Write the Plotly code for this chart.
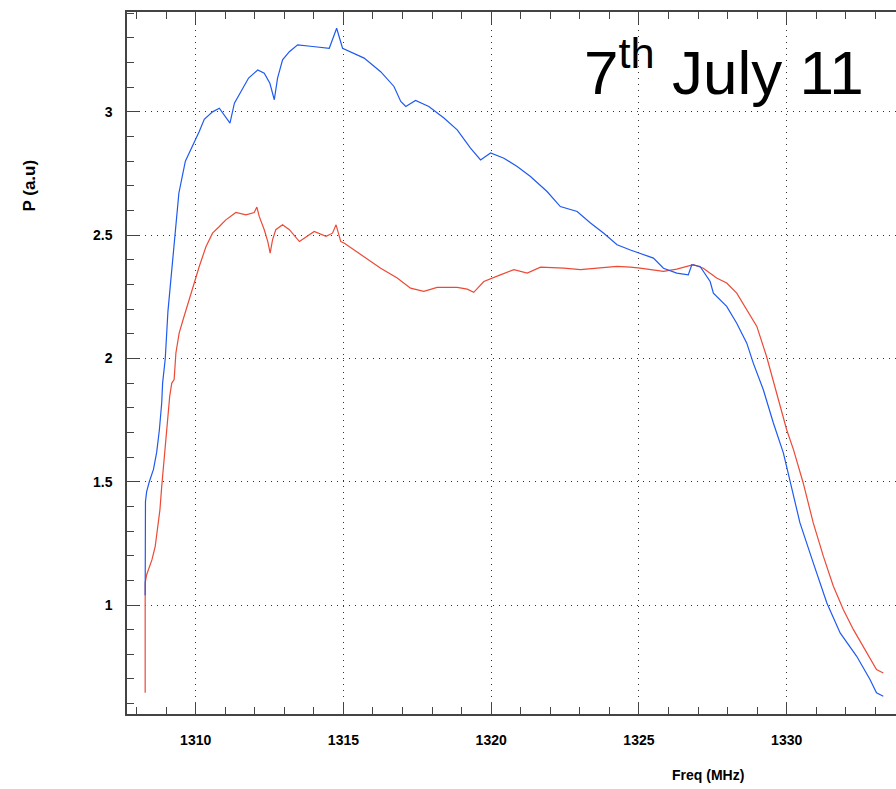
import plotly.graph_objects as go

# Blue trace (freq MHz, power a.u.)
blue_freq = [1308.29, 1308.29, 1308.30, 1308.34, 1308.43, 1308.57, 1308.68, 1308.77, 1308.85, 1308.88,
             1308.97, 1309.06, 1309.29, 1309.43, 1309.65, 1309.94, 1310.12, 1310.29, 1310.57, 1310.80,
             1311.16, 1311.31, 1311.53, 1311.79, 1312.10, 1312.32, 1312.51, 1312.66, 1312.77, 1312.94,
             1313.17, 1313.45, 1313.96, 1314.52, 1314.77, 1314.97, 1315.70, 1316.26, 1316.71, 1316.94,
             1317.11, 1317.44, 1317.89, 1318.40, 1318.85, 1319.30, 1319.64, 1319.98, 1320.43, 1320.88,
             1321.33, 1321.89, 1322.34, 1322.91, 1323.36, 1323.81, 1324.26, 1324.71, 1325.49, 1325.83,
             1326.28, 1326.67, 1326.79, 1327.07, 1327.41, 1327.52, 1327.97, 1328.31, 1328.65, 1328.87,
             1329.21, 1329.55, 1329.89, 1330.12, 1330.45, 1330.90, 1331.36, 1331.81, 1332.37, 1332.82,
             1333.04, 1333.27]
blue_p = [1.04, 1.31, 1.42, 1.46, 1.50, 1.55, 1.62, 1.71, 1.82, 1.90,
          2.00, 2.19, 2.51, 2.67, 2.80, 2.87, 2.92, 2.97, 3.00, 3.015,
          2.954, 3.035, 3.082, 3.137, 3.17, 3.157, 3.116, 3.049, 3.137, 3.211,
          3.244, 3.272, 3.265, 3.258, 3.339, 3.258, 3.218, 3.163, 3.103, 3.042,
          3.022, 3.046, 3.022, 2.975, 2.927, 2.853, 2.805, 2.833, 2.812, 2.778,
          2.738, 2.677, 2.616, 2.596, 2.549, 2.508, 2.461, 2.44, 2.407, 2.366,
          2.346, 2.339, 2.38, 2.373, 2.312, 2.265, 2.211, 2.143, 2.062, 1.981,
          1.873, 1.738, 1.616, 1.495, 1.333, 1.171, 1.008, 0.887, 0.792, 0.698,
          0.644, 0.630]

# Red trace
red_freq = [1308.29, 1308.29, 1308.34, 1308.41, 1308.52, 1308.63, 1308.71, 1308.79, 1308.85, 1308.90,
            1308.97, 1309.05, 1309.12, 1309.19, 1309.27, 1309.33, 1309.44, 1309.58, 1309.90, 1310.12,
            1310.35, 1310.57, 1310.80, 1311.02, 1311.36, 1311.70, 1311.98, 1312.07, 1312.15, 1312.32,
            1312.44, 1312.52, 1312.60, 1312.71, 1312.94, 1313.17, 1313.51, 1313.79, 1314.01, 1314.41,
            1314.63, 1314.75, 1314.91, 1315.02, 1315.70, 1316.26, 1316.82, 1317.27, 1317.72, 1318.17,
            1318.85, 1319.19, 1319.41, 1319.75, 1320.31, 1320.77, 1321.22, 1321.67, 1322.46, 1323.02,
            1323.59, 1324.26, 1324.71, 1325.04, 1325.83, 1326.28, 1326.84, 1327.18, 1327.63, 1327.97,
            1328.31, 1328.65, 1328.99, 1329.32, 1329.66, 1330.00, 1330.23, 1330.56, 1330.90, 1331.24,
            1331.58, 1331.92, 1332.26, 1332.71, 1333.04, 1333.27]
red_p = [0.644, 1.09, 1.123, 1.15, 1.184, 1.238, 1.306, 1.387, 1.481, 1.549,
         1.643, 1.752, 1.846, 1.90, 1.914, 2.022, 2.103, 2.16, 2.292, 2.373,
         2.454, 2.508, 2.535, 2.562, 2.592, 2.582, 2.592, 2.614, 2.576, 2.522,
         2.474, 2.427, 2.481, 2.522, 2.542, 2.522, 2.474, 2.495, 2.515, 2.495,
         2.508, 2.542, 2.474, 2.468, 2.414, 2.366, 2.326, 2.285, 2.272, 2.288,
         2.288, 2.281, 2.268, 2.312, 2.339, 2.36, 2.346, 2.37, 2.366, 2.36,
         2.366, 2.373, 2.37, 2.366, 2.353, 2.362, 2.38, 2.366, 2.326, 2.306,
         2.265, 2.197, 2.13, 2.008, 1.86, 1.711, 1.63, 1.495, 1.333, 1.198,
         1.076, 0.981, 0.90, 0.806, 0.738, 0.724]

x_range = [1307.675, 1333.70]
y_range = [0.558, 3.405]
x_ticks = [1310, 1315, 1320, 1325, 1330]
y_ticks = [1, 1.5, 2, 2.5, 3]
y_ticklabels = ["1", "1.5", "2", "2.5", "3"]

W, H = 896, 789
ML, MR, MT, MB = 127, 0, 12, 75
PW, PH = W - ML - MR, H - MT - MB


def px(x):
    return (x - ML) / PW


def py(y):
    return (H - MB - y) / PH


fig = go.Figure()
fig.add_trace(go.Scatter(x=red_freq, y=red_p, mode="lines",
                         line=dict(color="#ec4a36", width=1.2), showlegend=False))
fig.add_trace(go.Scatter(x=blue_freq, y=blue_p, mode="lines",
                         line=dict(color="#1f5af0", width=1.2), showlegend=False))

tickfont = dict(family="Liberation Sans, Arial, sans-serif",
                size=14, color="black", weight="bold")

fig.update_layout(
    width=W, height=H,
    margin=dict(l=ML, r=MR, t=MT, b=MB, pad=0),
    paper_bgcolor="white", plot_bgcolor="white",
    xaxis=dict(range=x_range, tickmode="array", tickvals=x_ticks, ticks="inside", ticklen=12,
               tickwidth=1.2, tickcolor="#444", showline=True, linecolor="#444", linewidth=1.5,
               mirror="allticks", showgrid=True, gridcolor="#333", gridwidth=1,
               griddash="1px,5px", zeroline=False, tickfont=tickfont, ticklabelstandoff=12,
               minor=dict(ticks="inside", dtick=1, ticklen=7, tickcolor="#444", tickwidth=1.2,
                          showgrid=False)),
    yaxis=dict(range=y_range, tickmode="array", tickvals=y_ticks, ticktext=y_ticklabels,
               ticks="inside", ticklen=12, tickwidth=1.2, tickcolor="#444", showline=True,
               linecolor="#444", linewidth=1.5, showgrid=True, gridcolor="#333", gridwidth=1,
               griddash="1px,5px", zeroline=False, tickfont=tickfont, ticklabelstandoff=10,
               minor=dict(ticks="inside", dtick=0.1, tick0=0, ticklen=7, tickcolor="#444",
                          tickwidth=1.2, showgrid=False)),
    yaxis2=dict(range=y_range, overlaying="y", side="right", tickmode="array", tickvals=y_ticks,
                ticks="inside", ticklen=8, tickwidth=1.2, tickcolor="#444", showline=False,
                showgrid=False, zeroline=False, showticklabels=False,
                minor=dict(ticks="inside", dtick=0.1, tick0=0, ticklen=5, tickcolor="#444",
                           tickwidth=1.2)),
    annotations=[
        dict(text="7<sup>th</sup> July 11", x=px(582), y=py(68), xref="paper", yref="paper",
             xanchor="left", yanchor="middle", showarrow=False,
             font=dict(family="Liberation Sans, Arial, sans-serif", size=62, color="black")),
        dict(text="P (a.u)", x=px(29.5), y=py(185), xref="paper", yref="paper",
             xanchor="center", yanchor="middle", showarrow=False, textangle=-90,
             font=dict(family="Liberation Sans, Arial, sans-serif", size=17, color="black",
                       weight="bold")),
        dict(text="Freq (MHz)", x=px(708), y=py(775), xref="paper", yref="paper",
             xanchor="center", yanchor="middle", showarrow=False,
             font=dict(family="Liberation Sans, Arial, sans-serif", size=14, color="black",
                       weight="bold")),
    ],
)

fig.write_html("out.html")
